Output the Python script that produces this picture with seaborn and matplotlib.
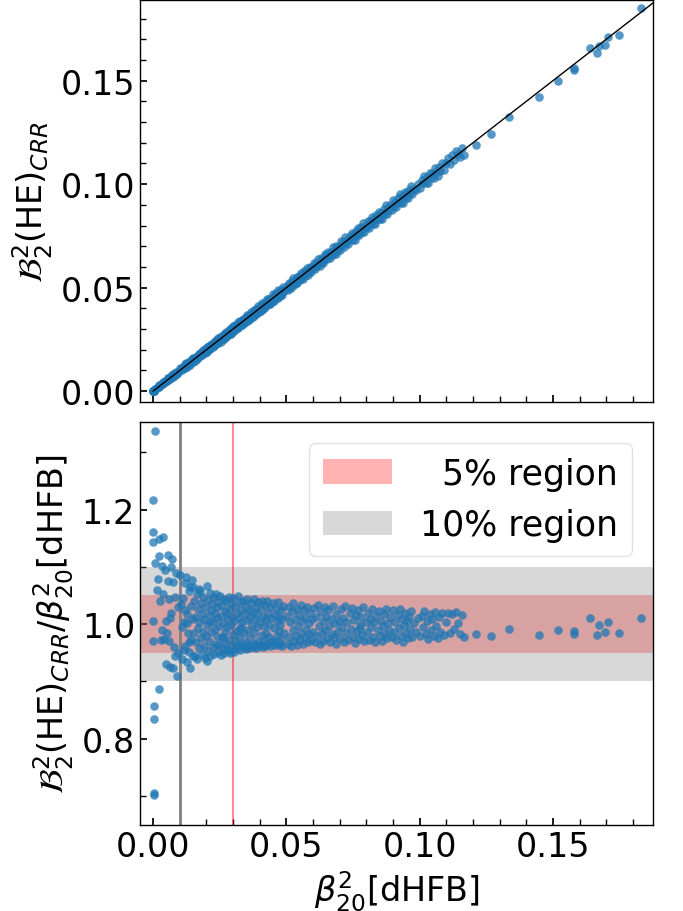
import numpy as np
import pandas as pd
import matplotlib
matplotlib.use("Agg")
import matplotlib.pyplot as plt
import seaborn as sns
from matplotlib.ticker import MultipleLocator

# beta_20^2 from dHFB and the ratio B_2^2(HE)_CRR / beta_20^2, grouped by deformation range
beta_small = [0.0007, 0.0001, 0.0001, 0.0001, 0.0024, 0.0039, 0.0024, 0.0057, 0.0071, 0.0009,
              0.0033, 0.0045, 0.0066, 0.0086, 0.0020, 0.0057, 0.0076, 0.0039, 0.0060, 0.0083,
              0.0001, 0.0001, 0.0030, 0.0040, 0.0060, 0.0050, 0.0064, 0.0076, 0.0089, 0.0024,
              0.0002, 0.0003, 0.0004, 0.0004, 0.0015, 0.0027, 0.0048, 0.0052, 0.0069, 0.0078,
              0.0092, 0.0095, 0.0035, 0.0062, 0.0081]
ratio_small = [1.338, 1.216, 1.161, 1.143, 1.148, 1.152, 1.119, 1.120, 1.114, 1.106,
               1.102, 1.094, 1.099, 1.090, 1.078, 1.075, 1.073, 1.052, 1.044, 1.047,
               1.006, 0.971, 0.972, 0.974, 0.970, 0.931, 0.925, 0.924, 0.910, 0.886,
               0.856, 0.835, 0.705, 0.702, 1.060, 1.040, 1.005, 0.985, 1.020, 0.960,
               1.030, 0.950, 0.990, 1.010, 0.945]

beta_low = [0.0102, 0.0108, 0.0112, 0.0115, 0.0118, 0.0121, 0.0124, 0.0127, 0.0129, 0.0131,
            0.0134, 0.0136, 0.0139, 0.0141, 0.0143, 0.0145, 0.0147, 0.0148, 0.0110, 0.0120,
            0.0133, 0.0138, 0.0105, 0.0117, 0.0126,
            0.0149, 0.0152, 0.0154, 0.0156, 0.0158, 0.0161, 0.0163, 0.0165, 0.0167, 0.0169,
            0.0171, 0.0173, 0.0174, 0.0176, 0.0178, 0.0180, 0.0182, 0.0184, 0.0186, 0.0188,
            0.0190, 0.0192, 0.0194, 0.0196, 0.0198,
            0.0201, 0.0201, 0.0203, 0.0205, 0.0207, 0.0209, 0.0211, 0.0213, 0.0215, 0.0217,
            0.0219, 0.0221, 0.0223, 0.0225, 0.0227, 0.0229, 0.0231, 0.0233, 0.0235, 0.0237,
            0.0239, 0.0241, 0.0243, 0.0245, 0.0247, 0.0249, 0.0212, 0.0238,
            0.0251, 0.0253, 0.0255, 0.0257, 0.0259, 0.0261, 0.0263, 0.0265, 0.0267, 0.0269,
            0.0271, 0.0273, 0.0275, 0.0277, 0.0279, 0.0281, 0.0283, 0.0285, 0.0287, 0.0289,
            0.0291, 0.0293, 0.0295, 0.0297, 0.0299, 0.0262, 0.0278, 0.0292]
ratio_low = [1.086, 0.939, 1.045, 1.003, 0.962, 1.072, 1.082, 0.933, 1.018, 0.985,
             1.058, 0.951, 0.924, 1.031, 0.972, 1.077, 1.009, 0.944, 0.995, 1.025,
             0.968, 1.065, 1.035, 0.955, 1.002,
             1.064, 0.985, 1.040, 0.945, 1.012, 0.968, 1.052, 0.939, 1.026, 0.993,
             1.061, 0.958, 1.003, 1.058, 0.975, 1.036, 0.948, 1.017, 0.986, 1.047,
             0.962, 1.008, 0.940, 1.029, 0.979,
             1.067, 0.936, 0.998, 1.042, 0.953, 1.015, 0.971, 1.054, 0.944, 1.024,
             0.987, 1.035, 0.960, 1.006, 1.047, 0.948, 0.992, 1.020, 0.966, 1.052,
             0.979, 1.011, 0.952, 1.038, 0.996, 0.963, 1.003, 1.029,
             1.049, 0.946, 1.014, 0.975, 1.031, 0.958, 1.001, 1.044, 0.950, 0.987,
             1.022, 0.965, 1.040, 0.994, 0.955, 1.009, 1.047, 0.972, 1.026, 0.949,
             0.998, 1.035, 0.961, 1.013, 0.982, 0.978, 1.018, 0.953]

beta_mid = [0.0301, 0.0303, 0.0305, 0.0307, 0.0309, 0.0311, 0.0313, 0.0315, 0.0317, 0.0319,
            0.0321, 0.0323, 0.0325, 0.0327, 0.0329, 0.0331, 0.0333, 0.0335, 0.0337, 0.0339,
            0.0341, 0.0343, 0.0345, 0.0347, 0.0349, 0.0326,
            0.0351, 0.0353, 0.0355, 0.0357, 0.0359, 0.0361, 0.0363, 0.0365, 0.0367, 0.0369,
            0.0371, 0.0373, 0.0375, 0.0377, 0.0379, 0.0381, 0.0383, 0.0385, 0.0387, 0.0389,
            0.0391, 0.0393, 0.0395, 0.0397,
            0.0401, 0.0403, 0.0405, 0.0407, 0.0409, 0.0411, 0.0413, 0.0415, 0.0417, 0.0419,
            0.0421, 0.0423, 0.0425, 0.0427, 0.0429, 0.0431, 0.0433, 0.0435, 0.0437, 0.0439,
            0.0441, 0.0445,
            0.0451, 0.0453, 0.0455, 0.0457, 0.0459, 0.0461, 0.0463, 0.0465, 0.0467, 0.0469,
            0.0471, 0.0473, 0.0475, 0.0477, 0.0479, 0.0481, 0.0483, 0.0485, 0.0487, 0.0491,
            0.0502, 0.0505, 0.0508, 0.0511, 0.0514, 0.0517, 0.0520, 0.0523, 0.0526, 0.0529,
            0.0532, 0.0535, 0.0538, 0.0541, 0.0544, 0.0547, 0.0550, 0.0553, 0.0556, 0.0559,
            0.0562, 0.0565, 0.0568, 0.0571, 0.0574, 0.0577, 0.0580, 0.0583, 0.0586, 0.0589,
            0.0592, 0.0596]
ratio_mid = [1.046, 0.952, 1.005, 0.971, 1.032, 0.958, 1.019, 0.988, 1.049, 0.963,
             1.010, 0.977, 1.038, 0.955, 0.995, 1.024, 0.966, 1.003, 1.041, 0.960,
             0.984, 1.017, 0.969, 1.030, 0.957, 0.992,
             1.007, 1.043, 0.962, 0.990, 1.025, 0.958, 1.012, 0.975, 1.036, 0.963,
             0.998, 1.021, 0.960, 1.044, 0.985, 1.009, 0.966, 1.030, 0.959, 0.994,
             1.018, 0.971, 1.039, 0.961,
             1.004, 0.963, 1.027, 0.981, 1.041, 0.960, 1.013, 0.972, 0.997, 1.033,
             0.962, 1.008, 0.985, 1.040, 0.966, 1.019, 0.977, 0.999, 1.029, 0.961,
             1.011, 0.971,
             1.036, 0.964, 0.993, 1.016, 0.969, 1.027, 0.980, 1.005, 0.963, 1.038,
             0.988, 1.013, 0.966, 0.999, 1.024, 0.974, 1.008, 0.962, 1.031, 0.985,
             1.014, 0.966, 1.030, 0.978, 1.003, 0.962, 1.022, 0.989, 1.036, 0.970,
             1.009, 0.980, 1.027, 0.963, 0.997, 1.016, 0.972, 1.033, 0.985, 1.006,
             0.966, 1.024, 0.978, 1.011, 0.992, 1.030, 0.968, 1.001, 0.983, 1.019,
             0.973, 1.008]

beta_high = [0.0601, 0.0604, 0.0608, 0.0611, 0.0615, 0.0618, 0.0622, 0.0625, 0.0629, 0.0632,
             0.0636, 0.0639, 0.0643, 0.0646, 0.0650, 0.0653, 0.0657, 0.0660, 0.0664, 0.0667,
             0.0671, 0.0674, 0.0678, 0.0681, 0.0685, 0.0688, 0.0692, 0.0696,
             0.0701, 0.0705, 0.0709, 0.0713, 0.0717, 0.0721, 0.0725, 0.0729, 0.0733, 0.0737,
             0.0741, 0.0745, 0.0749, 0.0753, 0.0757, 0.0761, 0.0765, 0.0769, 0.0773, 0.0777,
             0.0781, 0.0785, 0.0789, 0.0793, 0.0797, 0.0775,
             0.0802, 0.0806, 0.0810, 0.0814, 0.0818, 0.0822, 0.0826, 0.0830, 0.0834, 0.0838,
             0.0842, 0.0846, 0.0850, 0.0854, 0.0858, 0.0862, 0.0866, 0.0870, 0.0874, 0.0878,
             0.0882, 0.0886, 0.0890, 0.0895,
             0.0901, 0.0905, 0.0909, 0.0913, 0.0917, 0.0921, 0.0925, 0.0929, 0.0933, 0.0937,
             0.0941, 0.0945, 0.0949, 0.0953, 0.0957, 0.0961, 0.0965, 0.0969, 0.0973, 0.0977,
             0.0985, 0.0993,
             0.1002, 0.1007, 0.1012, 0.1017, 0.1022, 0.1027, 0.1032, 0.1037, 0.1042, 0.1047,
             0.1052, 0.1057, 0.1062, 0.1067, 0.1072, 0.1077, 0.1083, 0.1090, 0.1097, 0.1105,
             0.1112, 0.1120, 0.1128, 0.1135, 0.1145, 0.1152, 0.1157,
             0.1166, 0.1212, 0.1269, 0.1335, 0.1449, 0.1517, 0.1580, 0.1580, 0.1640, 0.1673,
             0.1707, 0.1666, 0.1695, 0.1749, 0.1831]
ratio_high = [0.987, 1.028, 0.969, 1.012, 0.980, 1.034, 0.996, 0.966, 1.021, 0.984,
              1.005, 0.971, 1.030, 0.990, 1.013, 0.975, 1.025, 0.996, 0.968, 1.009,
              0.983, 1.031, 0.977, 1.002, 0.966, 1.018, 0.988, 1.006,
              0.975, 1.026, 0.994, 1.011, 0.969, 1.032, 0.985, 1.004, 0.972, 1.019,
              0.991, 1.028, 0.978, 1.007, 0.967, 1.015, 0.988, 1.024, 0.974, 0.999,
              1.013, 0.981, 1.029, 0.970, 1.003, 0.993,
              0.986, 1.019, 0.972, 1.008, 0.994, 1.026, 0.977, 1.003, 0.968, 1.014,
              0.989, 1.022, 0.980, 1.006, 0.971, 0.996, 1.017, 0.983, 1.027, 0.975,
              1.002, 0.990, 1.012, 0.978,
              1.024, 0.987, 1.004, 0.972, 1.016, 0.993, 1.027, 0.980, 1.008, 0.969,
              0.998, 1.019, 0.984, 1.006, 0.975, 1.013, 0.991, 1.023, 0.978, 1.001,
              0.986, 1.010,
              0.979, 1.014, 0.994, 1.022, 0.983, 1.005, 0.974, 1.018, 0.990, 1.008,
              0.980, 1.021, 0.996, 0.976, 1.012, 0.987, 1.019, 0.981, 1.004, 1.020,
              0.985, 1.018, 0.992, 1.021, 1.002, 0.983, 1.015,
              0.977, 0.983, 0.979, 0.991, 0.981, 0.989, 0.988, 0.983, 1.010, 0.998,
              1.003, 0.981, 0.986, 0.984, 1.010]

beta20_sq = np.array(beta_small + beta_low + beta_mid + beta_high)
ratio = np.array(ratio_small + ratio_low + ratio_mid + ratio_high)
df = pd.DataFrame({"beta20_sq": beta20_sq, "ratio": ratio})
df["B2_sq_CRR"] = df["ratio"] * df["beta20_sq"]

sns.set_theme(style="ticks", rc={
    "text.color": "black", "axes.labelcolor": "black",
    "xtick.color": "black", "ytick.color": "black",
    "axes.edgecolor": "black",
})
plt.rcParams["font.family"] = ["DejaVu Sans"]
plt.rcParams["mathtext.fontset"] = "dejavusans"

fig = plt.figure(figsize=(6.83, 9.12), dpi=100)
ax_top = fig.add_axes([0.205, 0.558, 0.751, 0.441])
ax_bot = fig.add_axes([0.205, 0.0943, 0.751, 0.4419], sharex=ax_top)

point_kw = dict(color="#1f77b4", alpha=0.75, s=38, linewidth=0, zorder=3)

# upper panel: CRR vs dHFB with identity line
sns.scatterplot(data=df, x="beta20_sq", y="B2_sq_CRR", ax=ax_top, **point_kw)
ax_top.plot([0, 0.2], [0, 0.2], color="black", lw=1, zorder=4)
ax_top.set_xlim(-0.0049, 0.1875)
ax_top.set_ylim(-0.0053, 0.189)
ax_top.set_ylabel(r"$\mathcal{B}_2^2$(HE)$_{CRR}$", fontsize=24)
ax_top.set_xlabel("")
ax_top.tick_params(labelbottom=False)

# lower panel: ratio with tolerance bands
ax_bot.axhspan(0.95, 1.05, color="red", alpha=0.3, lw=0, label="  5% region", zorder=1)
ax_bot.axhspan(0.90, 1.10, color="gray", alpha=0.3, lw=0, label="10% region", zorder=1)
ax_bot.axvline(0.01, color="gray", lw=2, zorder=2)
ax_bot.axvline(0.03, color="red", alpha=0.45, lw=1.5, zorder=2)
sns.scatterplot(data=df, x="beta20_sq", y="ratio", ax=ax_bot, **point_kw)
ax_bot.set_ylim(0.649, 1.353)
ax_bot.set_xlabel(r"$\beta_{20}^2$[dHFB]", fontsize=24)
ax_bot.set_ylabel(r"$\mathcal{B}_2^2$(HE)$_{CRR}/\beta_{20}^2$[dHFB]", fontsize=24)
ax_bot.legend(loc="upper right", fontsize=25, frameon=True, edgecolor="0.85",
              borderaxespad=0.6)

for ax in (ax_top, ax_bot):
    ax.tick_params(which="both", direction="in", labelsize=24, colors="black")
    ax.tick_params(which="major", length=5)
    ax.tick_params(which="minor", length=4)
    for sp in ax.spines.values():
        sp.set_visible(True)
        sp.set_color("black")
        sp.set_linewidth(1.0)

ax_top.xaxis.set_major_locator(MultipleLocator(0.05))
ax_top.xaxis.set_minor_locator(MultipleLocator(0.01))
ax_top.yaxis.set_major_locator(MultipleLocator(0.05))
ax_top.yaxis.set_minor_locator(MultipleLocator(0.01))
ax_bot.yaxis.set_major_locator(MultipleLocator(0.2))
ax_bot.yaxis.set_minor_locator(MultipleLocator(0.1))

fig.savefig("out.png", dpi=100)
